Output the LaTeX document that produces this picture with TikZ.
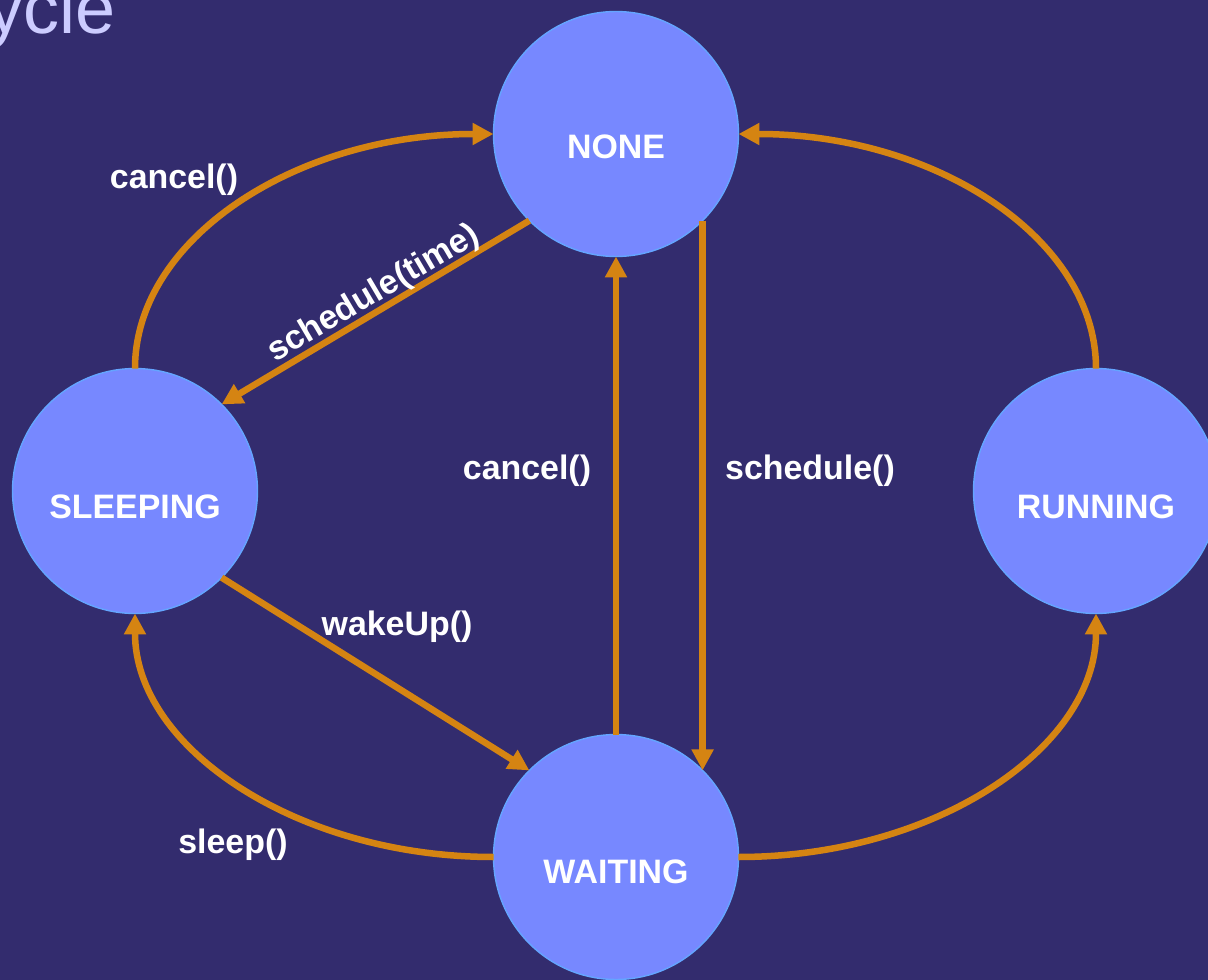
\documentclass[tikz,border=0pt]{standalone}
\usepackage{fontspec}
\setmainfont{Liberation Sans}
\usetikzlibrary{arrows.meta}
\definecolor{bg}{RGB}{51,44,110}
\definecolor{circfill}{RGB}{119,136,255}
\definecolor{circline}{RGB}{100,165,255}
\definecolor{arr}{RGB}{213,132,18}
\definecolor{titlecol}{RGB}{204,204,255}
\begin{document}
\begin{tikzpicture}[x=0.02cm,y=-0.02cm,
  state/.style={circle,fill=circfill,draw=circline,line width=0.8pt,minimum size=4.9cm,inner sep=0pt,outer sep=0pt},
  statetxt/.style={text=white,font=\bfseries\fontsize{19.3}{23}\selectfont,inner sep=0pt},
  lbl/.style={text=white,font=\bfseries\fontsize{19.3}{23}\selectfont,inner sep=0pt},
  conn/.style={draw=arr,line width=0.13cm,-{Triangle[length=0.42cm,width=0.42cm]}}]
\fill[bg] (0,0) rectangle (1208,980);
\useasboundingbox (0,0) rectangle (1208,980);
\node[anchor=base east,text=titlecol,font=\fontsize{41}{48}\selectfont,inner sep=0pt] (title) at (116,34) {ycle};
% states
\node[state] (none) at (616,134) {};
\node[state] (sleeping) at (135,491) {};
\node[state] (running) at (1096,491) {};
\node[state] (waiting) at (616,857) {};
\node[statetxt] (nonet) at (616,147) {NONE};
\node[statetxt] (sleepingt) at (135,507) {SLEEPING};
\node[statetxt] (runningt) at (1096,507) {RUNNING};
\node[statetxt] (waitingt) at (616,872) {WAITING};
% connectors
\draw[conn] (sleeping.north) .. controls +(0,-130) and +(-197,0) .. (none.west);
\draw[conn] (running.north) .. controls +(0,-130) and +(197,0) .. (none.east);
\draw[conn] (none.225) -- (sleeping.45);
\draw[conn] (waiting.north) -- (none.south);
\draw[conn] (none.-45) -- (waiting.45);
\draw[conn] (sleeping.-45) -- (waiting.135);
\draw[conn] (waiting.west) .. controls +(-197,0) and +(0,134) .. (sleeping.south);
\draw[conn] (waiting.east) .. controls +(197,0) and +(0,134) .. (running.south);
% labels
\node[lbl] (l1) at (174,180) {cancel()};
\node[lbl,rotate=30.5] (l2) at (374,294) {schedule(time)};
\node[lbl] (l3) at (527,471) {cancel()};
\node[lbl] (l4) at (810,471) {schedule()};
\node[lbl] (l5) at (397,627) {wakeUp()};
\node[lbl] (l6) at (233,845) {sleep()};
\end{tikzpicture}
\end{document}
